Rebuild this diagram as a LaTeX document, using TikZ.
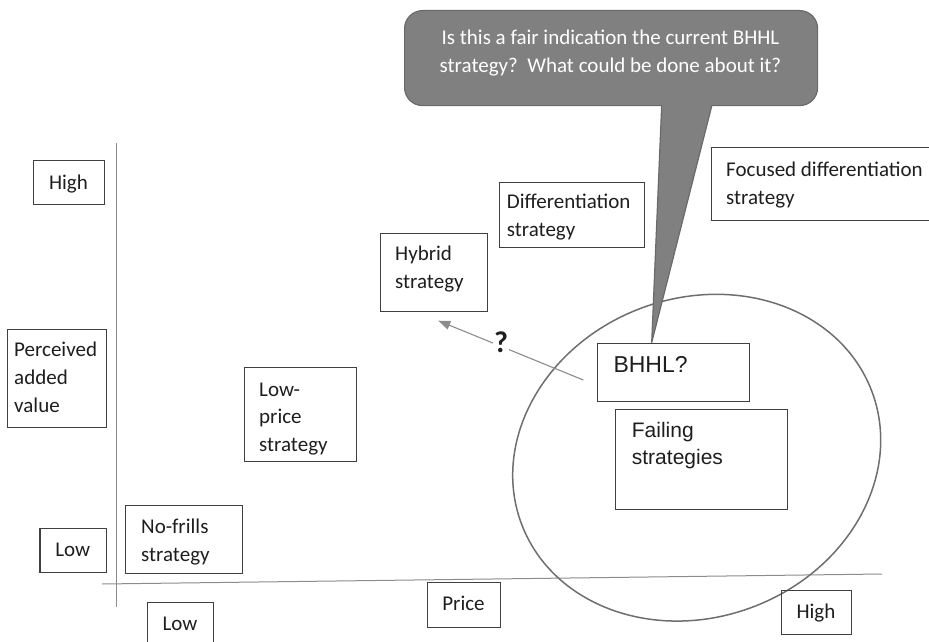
\documentclass[tikz,border=0pt]{standalone}
\usepackage{fontspec}
\setmainfont{Carlito}
\newfontfamily\arialish{Liberation Sans}
\usetikzlibrary{shapes.geometric,arrows.meta}

\definecolor{boxline}{HTML}{404040}
\definecolor{axisgray}{HTML}{8C8C8C}
\definecolor{ringgray}{HTML}{6E6E6E}
\definecolor{notefill}{HTML}{808080}
\definecolor{noteedge}{HTML}{6A6A6A}
\definecolor{ink}{HTML}{1E1E1E}

\begin{document}
\begin{tikzpicture}[x=1pt, y=-1pt,
  box/.style={draw=boxline, line width=1.2pt, inner sep=0pt, anchor=north west},
  lbl/.style={inner sep=0pt, align=left, text=ink, font=\fontsize{21}{27.8}\selectfont},
  sanslbl/.style={lbl, font=\arialish\fontsize{21}{26.3}\selectfont},
  axis/.style={draw=axisgray, line width=1pt},
  ring/.style={draw=ringgray, line width=1.5pt, ellipse, inner sep=0pt},
  pointer/.style={draw=axisgray, line width=1.1pt, -{Triangle[length=12pt, width=9pt]}},
  qmark/.style={fill=white, inner sep=1pt, text=ink, font=\fontsize{30}{30}\bfseries\selectfont},
  bubble/.style={draw=noteedge, fill=notefill, line width=1.2pt, rounded corners=18pt, inner sep=0pt, anchor=north west},
]
\useasboundingbox (0,0) rectangle (929,642);
\clip (0,0) rectangle (929,642);

% axes
\coordinate (yTop) at (116,143);
\coordinate (yBot) at (116,607);
\coordinate (xLeft) at (102,584);
\coordinate (xRight) at (882,574);
\draw[axis] (yTop) -- (yBot);
\draw[axis] (xLeft) -- (xRight);

% zone of failing strategies
\node[ring, minimum width=374.6pt, minimum height=319pt, rotate=21] (zone) at (696.7,457.7) {};

% axis labels (multi-line labels are placed by the baseline of their last line)
\node[box, minimum width=71pt, minimum height=44pt] (highY) at (33,160) {};
\node[lbl, anchor=base] (highYT) at (68.5,189) {High};
\node[box, minimum width=99pt, minimum height=98pt] (pav) at (7,329) {};
\node[lbl, anchor=base west] (pavT) at (14,412.5) {Perceived\\added\\value};
\node[box, minimum width=66.7pt, minimum height=44pt] (lowY) at (39.3,528) {};
\node[lbl, anchor=base] (lowYT) at (72.7,556.7) {Low};
\node[box, minimum width=66pt, minimum height=44pt] (lowX) at (147,602) {};
\node[lbl, anchor=base] (lowXT) at (180,630) {Low};
\node[box, minimum width=73pt, minimum height=45pt] (price) at (427,582) {};
\node[lbl, anchor=base] (priceT) at (463.5,610.7) {Price};
\node[box, minimum width=70pt, minimum height=44pt] (highX) at (781,590) {};
\node[lbl, anchor=base] (highXT) at (816,618.3) {High};

% strategy boxes
\node[box, minimum width=117pt, minimum height=68pt] (nofrills) at (125,505) {};
\node[lbl, anchor=base west] (nofrillsT) at (141,561.7) {No-frills\\strategy};
\node[box, minimum width=112pt, minimum height=94pt] (lowprice) at (244,367) {};
\node[lbl, anchor=base west] (lowpriceT) at (259,451.7) {Low-\\price\\strategy};
\node[box, minimum width=107pt, minimum height=78pt] (hybrid) at (380,233) {};
\node[lbl, anchor=base west] (hybridT) at (395,288.7) {Hybrid\\strategy};
\node[box, minimum width=145pt, minimum height=65pt] (diff) at (499,182) {};
\node[lbl, anchor=base west] (diffT) at (506.7,236.7) {Differentiation\\strategy};
\node[box, minimum width=234pt, minimum height=73pt] (focused) at (711,147) {};
\node[lbl, anchor=base west] (focusedT) at (726,204) {Focused differentiation\\strategy};

% boxes inside the zone
\node[box, minimum width=152pt, minimum height=58pt] (bhhl) at (597,343) {};
\node[sanslbl, font=\arialish\fontsize{23}{26}\selectfont, anchor=base west] (bhhlT) at (613.3,372.7) {BHHL?};
\node[box, minimum width=172pt, minimum height=100pt] (failing) at (615,409) {};
\node[sanslbl, anchor=base west] (failingT) at (631.7,464) {Failing\\strategies};

% possible move towards the hybrid strategy
\coordinate (moveFrom) at (583.3,380);
\coordinate (moveTo) at (438.3,320.7);
\draw[pointer] (moveFrom) -- (moveTo);
\node[qmark] (q) at (501,342) {?};

% question bubble pointing at BHHL
\node[bubble, minimum width=413pt, minimum height=95pt] (note) at (404,10) {};
\node[lbl, align=center, text=white, anchor=base] (noteT) at (610.5,72.7)
  {Is this a fair indication the current BHHL\\strategy?\ \ What could be done about it?};
\coordinate (tailL) at (661.7,105);
\coordinate (tailR) at (712,105);
\coordinate (tailTip) at (651.7,342.5);
\fill[notefill] (661.9,101) -- (tailTip) -- (713,101) -- cycle;
\draw[noteedge, line width=1.2pt, line join=round] (tailL) -- (tailTip) -- (tailR);
\end{tikzpicture}
\end{document}
